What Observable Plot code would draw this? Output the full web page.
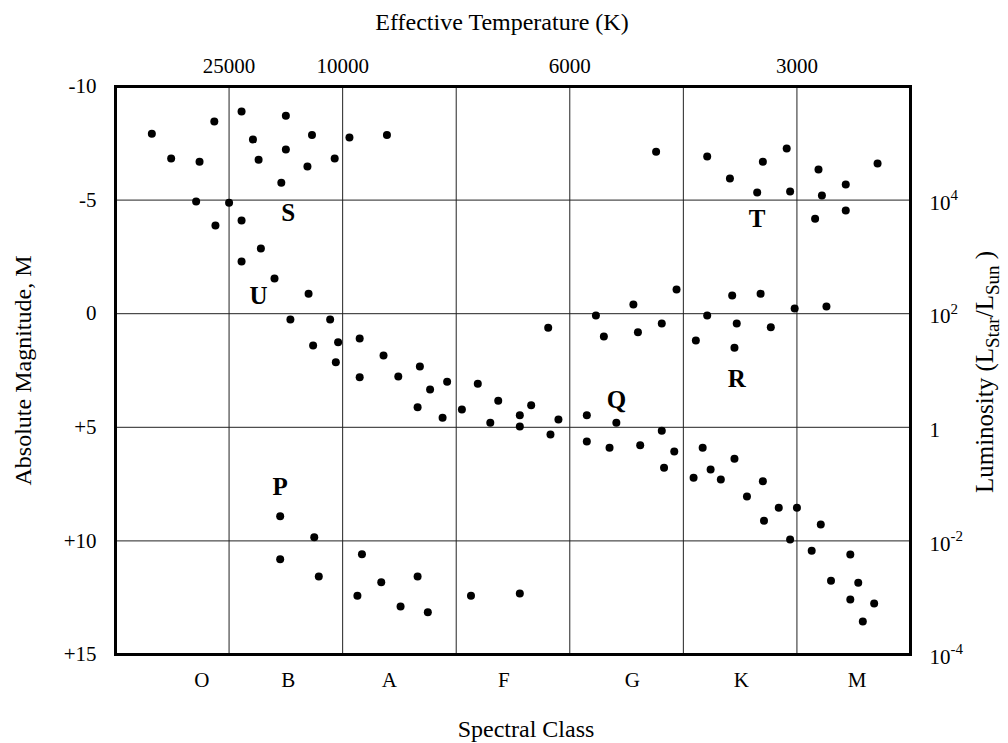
<!DOCTYPE html>
<html>
<head>
<meta charset="utf-8">
<script src="https://cdn.jsdelivr.net/npm/d3@7"></script>
<script src="https://cdn.jsdelivr.net/npm/@observablehq/plot@0.6"></script>
<style>
  html, body { margin: 0; padding: 0; background: #fff; }
</style>
</head>
<body>
<div id="chart"></div>
<script>
// Spectral-class column position (0..7) and absolute magnitude of each star
const starX = [
  0.32,0.49,0.74,0.87,1.11,1.50,1.21,1.73,1.50,1.26,1.69,1.93,2.06,2.39,1.46,
  0.71,1.00,0.88,1.11,1.28,1.11,1.40,1.70,1.54,1.89,1.74,1.96,2.15,1.94,2.36,
  2.15,2.49,2.68,2.77,2.92,2.66,2.88,3.05,3.19,3.37,3.30,3.56,3.56,3.66,3.90,
  3.83,4.15,4.41,4.15,4.35,4.62,4.81,4.92,4.83,5.17,5.09,5.24,5.33,5.45,5.56,
  5.70,5.84,5.71,6.00,6.21,5.94,6.13,6.47,6.30,6.54,6.47,6.68,6.58,
  1.45,1.75,1.45,1.79,2.17,2.34,2.13,2.66,2.51,2.75,3.13,3.56,
  3.81,4.23,4.56,4.30,4.60,4.94,4.81,5.21,5.43,5.68,5.98,6.26,5.47,5.77,5.11,5.45,
  4.76,5.21,5.41,5.70,5.91,5.65,5.94,6.19,6.71,6.43,6.22,6.16,6.43
];
const starMag = [
  -7.92,-6.83,-6.69,-8.46,-8.90,-8.71,-7.67,-7.87,-7.23,-6.78,-6.48,-6.83,-7.76,-7.87,-5.76,
  -4.94,-4.88,-3.88,-4.10,-2.87,-2.30,-1.55,-0.88,0.26,0.26,1.40,1.26,1.09,2.14,1.84,
  2.80,2.76,2.32,3.34,2.99,4.12,4.58,4.22,3.08,3.83,4.80,4.47,4.97,4.03,4.66,
  5.32,4.47,4.80,5.62,5.90,5.79,5.15,6.07,6.78,5.90,7.22,6.86,7.30,6.38,8.05,
  7.38,8.54,9.11,8.54,9.28,9.94,10.43,10.60,11.75,11.84,12.58,12.76,13.55,
  8.92,9.84,10.81,11.57,10.59,11.82,12.41,11.57,12.89,13.14,12.41,12.31,
  0.62,0.08,-0.41,1.00,0.82,-1.07,0.43,0.08,-0.80,-0.88,-0.23,-0.32,0.43,0.60,1.18,1.50,
  -7.13,-6.92,-5.95,-6.69,-7.27,-5.34,-5.38,-6.35,-6.61,-5.69,-5.20,-4.18,-4.54
];

// Region letters
const regionText = ["S", "U", "T", "R", "Q", "P"];
const regionX = [1.52, 1.26, 5.65, 5.47, 4.41, 1.45];
const regionMag = [-4.43, -0.76, -4.18, 2.86, 3.78, 7.63];

// Axes
const classLabels = ["O", "B", "A", "F", "G", "K", "M"];
const classPos = [0.76, 1.52, 2.41, 3.42, 4.55, 5.51, 6.53];
const tempLabels = ["25000", "10000", "6000", "3000"];
const tempPos = [1, 2, 4, 6];
const magTicks = [-10, -5, 0, 5, 10, 15];
const magLabels = ["-10", "-5", "0", "+5", "+10", "+15"];
const lumBase = ["10", "10", "1", "10", "10"];
const lumExp = ["4", "2", "", "-2", "-4"];
const lumMag = [-5, 0, 5, 10, 15];
const gridX = [1, 2, 3, 4, 5, 6];
const gridY = [-5, 0, 5, 10];

const stars = starX.map((x, i) => ({x, m: starMag[i]}));
const regions = regionText.map((t, i) => ({t, x: regionX[i], m: regionMag[i]}));
const lum = lumMag.map((m, i) => ({m, base: lumBase[i], exp: lumExp[i]}));
const classMap = new Map(classPos.map((p, i) => [p, classLabels[i]]));
const tempMap = new Map(tempPos.map((p, i) => [p, tempLabels[i]]));
const magMap = new Map(magTicks.map((p, i) => [p, magLabels[i]]));

const FONT = "'Liberation Serif', 'Times New Roman', Times, serif";

const chart = Plot.plot({
  width: 1008,
  height: 743,
  marginLeft: 115,
  marginRight: 98,
  marginTop: 86,
  marginBottom: 89,
  style: {fontFamily: FONT, fontSize: "21px", background: "#fff", color: "#000"},
  x: {domain: [0, 7], axis: null},
  y: {domain: [-10, 15], reverse: true, axis: null},
  marks: [
    Plot.ruleX(gridX, {stroke: "#222", strokeWidth: 1}),
    Plot.ruleY(gridY, {stroke: "#222", strokeWidth: 1}),
    Plot.frame({stroke: "#000", strokeWidth: 3}),
    Plot.dot(stars, {x: "x", y: "m", r: 4, fill: "#000", stroke: "none"}),
    Plot.text(regions, {x: "x", y: "m", text: "t", fontSize: 25, fontWeight: "bold", fill: "#000"}),
    Plot.axisY({anchor: "left", ticks: magTicks, tickFormat: d => magMap.get(d), tickSize: 0, tickPadding: 19, fontSize: 21, label: null}),
    Plot.axisX({anchor: "bottom", ticks: classPos, tickFormat: d => classMap.get(d), tickSize: 0, tickPadding: 18, fontSize: 21, label: null}),
    Plot.axisX({anchor: "top", ticks: tempPos, tickFormat: d => tempMap.get(d), tickSize: 0, tickPadding: 14, fontSize: 21, label: null}),
    Plot.text(lum, {y: "m", text: "base", frameAnchor: "right", textAnchor: "start", lineAnchor: "middle", dx: 19, dy: 3, fontSize: 21, fill: "#000"}),
    Plot.text(lum, {y: "m", text: "exp", frameAnchor: "right", textAnchor: "start", lineAnchor: "middle", dx: 40, dy: -5, fontSize: 15, fill: "#000"}),
    Plot.text(["Effective Temperature (K)"], {frameAnchor: "top", textAnchor: "middle", lineAnchor: "middle", dx: -11, dy: -64, fontSize: 24, fill: "#000"}),
    Plot.text(["Spectral Class"], {frameAnchor: "bottom", textAnchor: "middle", lineAnchor: "middle", dx: 13, dy: 75, fontSize: 24, fill: "#000"}),
    Plot.text(["Absolute Magnitude, M"], {frameAnchor: "left", textAnchor: "middle", lineAnchor: "middle", dx: -92, rotate: -90, fontSize: 24, fill: "#000"})
  ]
});

// Right axis title with subscripts
const svg = d3.select(chart);
const t = svg.append("text")
  .attr("transform", "translate(993,372) rotate(-90)")
  .attr("text-anchor", "middle")
  .attr("font-family", FONT)
  .attr("font-size", 25)
  .attr("fill", "#000");
t.append("tspan").text("Luminosity (L");
t.append("tspan").attr("font-size", 19).attr("dy", 6).text("Star");
t.append("tspan").attr("dy", -6).text("/L");
t.append("tspan").attr("font-size", 19).attr("dy", 6).text("Sun");
t.append("tspan").attr("dy", -6).text(" )");

document.getElementById("chart").appendChild(chart);
</script>
</body>
</html>
